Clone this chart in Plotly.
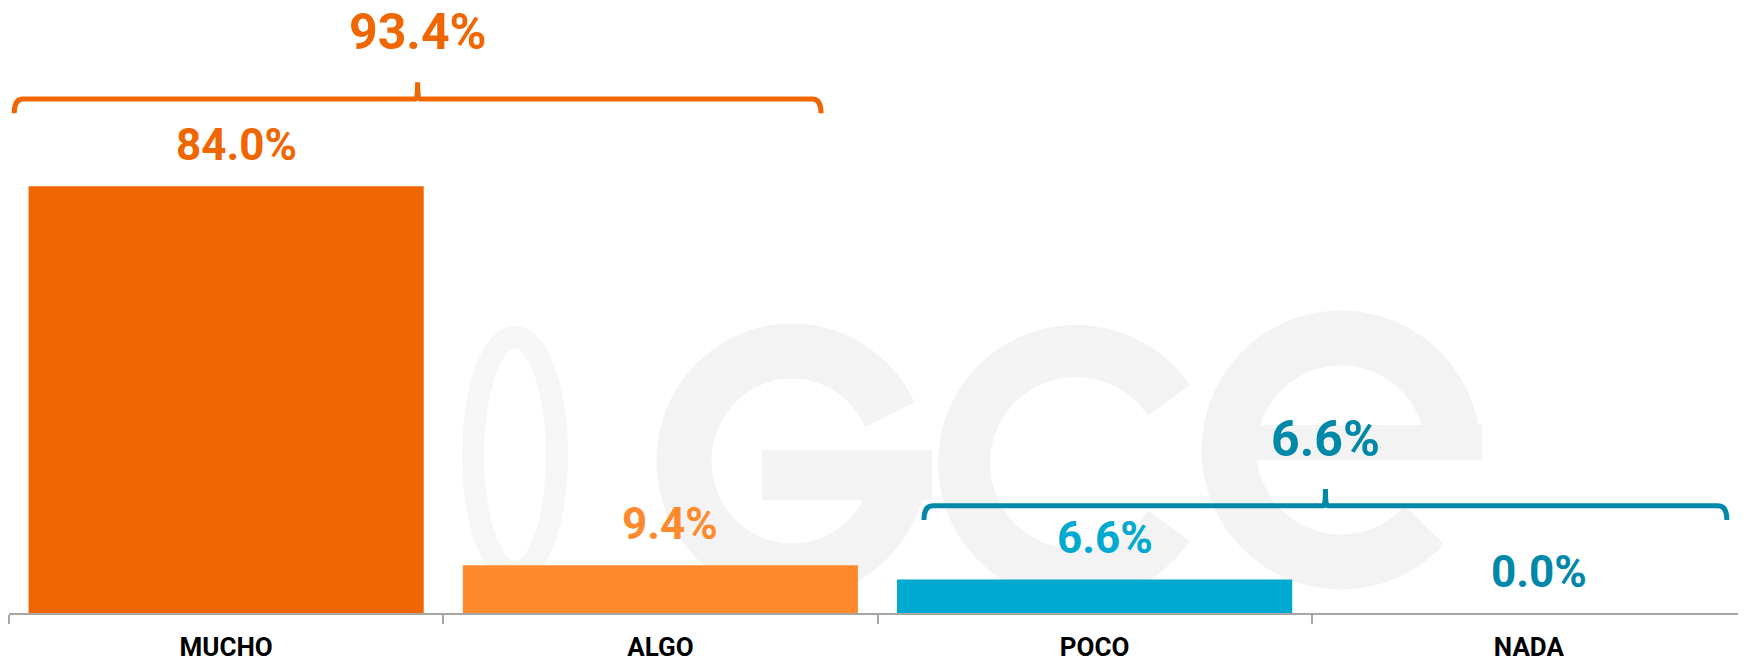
import numpy as np
import plotly.graph_objects as go

# ---------------- data ----------------
categories = ["MUCHO", "ALGO", "POCO", "NADA"]
values = [84.0, 9.4, 6.6, 0.0]
bar_colors = ["#F06600", "#FF8A2E", "#00A9D0", "#00A9D0"]
label_colors = ["#F06600", "#FF8A2E", "#00A9D0", "#0088A8"]

group_labels = ["93.4%", "6.6%"]
group_totals = [93.4, 6.6]
group_colors = ["#F06600", "#0088A8"]
# bracket spans in category units (left, right), and bracket level on value axis
group_spans = [(-0.488, 1.37), (1.607, 3.456)]
group_levels = [101.2, 21.1]

FONT = "Roboto, Lato, sans-serif"

# page has an 8px body margin; figure sized to fit the 1746x660 window
OFF = 8
W, H = 1746 - OFF, 660 - OFF
ML, MR, MT, MB = 1, 0, 0, 47
PW = W - ML - MR
PH = H - MT - MB
YMAX = PH / 5.08

fig = go.Figure()
fig.add_trace(go.Bar(
    x=categories, y=values,
    marker=dict(color=bar_colors, line=dict(width=0)),
    width=0.91, hoverinfo="skip", showlegend=False,
))

# value labels
for c_name, v, c in zip(categories, values, label_colors):
    fig.add_annotation(x=c_name, y=v, text=f"<b>{v:.1f}%</b>", showarrow=False,
                       yanchor="middle", yshift=41, xshift=10,
                       font=dict(family=FONT, size=44, color=c))

# group brackets
shapes = []
for (x0, x1), lvl, col, lab in zip(group_spans, group_levels, group_colors, group_labels):
    xm = (x0 + x1) / 2
    path = (f"M {x0},{lvl-2.8} Q {x0},{lvl} {x0+0.02},{lvl} L {xm-0.005},{lvl} "
            f"Q {xm},{lvl} {xm},{lvl+3.3} Q {xm},{lvl} {xm+0.005},{lvl} "
            f"L {x1-0.02},{lvl} Q {x1},{lvl} {x1},{lvl-2.8}")
    shapes.append(dict(type="path", path=path, xref="x", yref="y",
                       line=dict(color=col, width=5), layer="above"))
    fig.add_annotation(x=xm, y=lvl, text=f"<b>{lab}</b>", showarrow=False,
                       yanchor="middle", yshift=67,
                       font=dict(family=FONT, size=50, color=col))

# faint watermark (decorative), positions given in window pixels
def px(x):
    return (x - OFF - ML) / PW
def py(y):
    return (H - MB - (y - OFF)) / PH

def arc(cx, cy, rx, ry, a0, a1, n=80):
    t = np.radians(np.linspace(a0, a1, n))
    pts = [(px(cx + rx * np.cos(a)), py(cy - ry * np.sin(a))) for a in t]
    return "M " + " L ".join(f"{a:.5f},{b:.5f}" for a, b in pts)

wm = "#F3F3F3"
wm_rings = [
    (792, 461, 108, 110, 25, 360, 55, wm),         # g
    (1076, 463, 112, 112, 34, 326, 52, wm),        # c
    (1341, 450, 112, 112, 0, 318, 55, wm),         # e
    (515, 455, 42, 118, 0, 360, 22, "#F6F6F6"),    # icon oval
]
for cx, cy, rx, ry, a0, a1, lw, col in wm_rings:
    shapes.append(dict(type="path", path=arc(cx, cy, rx, ry, a0, a1), xref="paper", yref="paper",
                       line=dict(color=col, width=lw), layer="below"))
shapes.append(dict(type="rect", xref="paper", yref="paper",
                   x0=px(762), x1=px(932), y0=py(500), y1=py(450),
                   line=dict(width=0), fillcolor=wm, layer="below"))
shapes.append(dict(type="rect", xref="paper", yref="paper",
                   x0=px(1256), x1=px(1482), y0=py(460), y1=py(425),
                   line=dict(width=0), fillcolor=wm, layer="below"))

fig.update_layout(
    width=W, height=H,
    margin=dict(l=ML, r=MR, t=MT, b=MB, autoexpand=False),
    paper_bgcolor="white", plot_bgcolor="rgba(0,0,0,0)",
    shapes=shapes,
    bargap=0.09,
    xaxis=dict(
        type="category", categoryorder="array", categoryarray=categories,
        tickmode="array", tickvals=categories, ticktext=[f"<b>{c}</b>" for c in categories],
        range=[-0.5, 3.5], showline=True, linecolor="#A6A6A6", linewidth=2,
        ticks="outside", tickson="boundaries", ticklen=9, tickcolor="#A6A6A6", tickwidth=2,
        showgrid=False, zeroline=False, ticklabelstandoff=10, automargin=False,
        tickfont=dict(family=FONT, size=26, color="#000000"),
    ),
    yaxis=dict(range=[0, YMAX], visible=False, showgrid=False, zeroline=False, automargin=False),
)

fig.write_html("out.html")
